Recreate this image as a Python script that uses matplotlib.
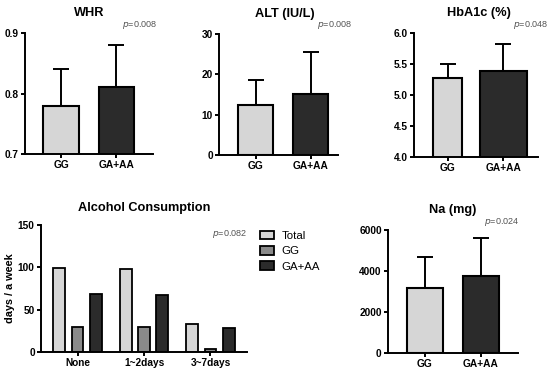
import matplotlib.pyplot as plt
from matplotlib.patches import Patch

plt.rcParams['font.family'] = ['Liberation Sans', 'DejaVu Sans']

W, H = 550, 372

groups = ['GG', 'GA+AA']
whr_mean = [0.78, 0.81]
whr_sd = [0.06, 0.07]
alt_mean = [12.3, 15.2]
alt_sd = [6.3, 10.4]
hba_mean = [5.28, 5.39]
hba_sd = [0.22, 0.44]
na_mean = [3150, 3740]
na_sd = [1550, 1890]

alc_cats = ['None', '1~2days', '3~7days']
alc_total = [99, 98, 33]
alc_gg = [29, 30, 3]
alc_ga = [69, 67, 28]

light = '#d6d6d6'
mid = '#8a8a8a'
dark = '#2b2b2b'


def add_ax(fig, left, top, right, bottom):
    # pixel box -> figure fraction
    return fig.add_axes([left / W, 1 - bottom / H, (right - left) / W, (bottom - top) / H])


def style(ax):
    for s in ['top', 'right']:
        ax.spines[s].set_visible(False)
    for s in ['left', 'bottom']:
        ax.spines[s].set_linewidth(1.4)
    ax.tick_params(width=1.4, length=3, labelsize=7.3, pad=1.5)
    for lab in ax.get_xticklabels() + ax.get_yticklabels():
        lab.set_fontweight('bold')


def ptext(fig, x, y, s):
    fig.text(x / W, 1 - y / H, s, ha='right', va='center', fontsize=6.5, color='#555555')


def two_bar(fig, box, mean, sd, ylim, yticks, fmt, title, pval, pxy, widths=(0.64, 0.64), xlim=(-0.65, 1.66), title_dx=0.0):
    ax = add_ax(fig, *box)
    x = [0, 1]
    ax.errorbar(x, mean, yerr=[[0, 0], sd], fmt='none', ecolor='black', elinewidth=1.4,
                capsize=6, capthick=1.4, zorder=1)
    ax.bar(x, mean, width=list(widths), color=[light, dark], edgecolor='black', linewidth=1.5, zorder=2)
    ax.set_ylim(*ylim)
    ax.set_xlim(*xlim)
    ax.set_yticks(yticks)
    ax.set_yticklabels([fmt.format(v) for v in yticks])
    ax.set_xticks(x)
    ax.set_xticklabels(groups)
    ax.set_title(title, fontsize=9.2, fontweight='bold', pad=12, x=0.5 + title_dx)
    style(ax)
    ptext(fig, pxy[0], pxy[1], '$\\it{p}$=' + pval)
    return ax


fig = plt.figure(figsize=(W / 100, H / 100), dpi=100)

two_bar(fig, (25, 33, 153, 154), whr_mean, whr_sd, (0.7, 0.9), [0.7, 0.8, 0.9], '{:.1f}',
        'WHR', '0.008', (157, 25))
two_bar(fig, (219, 34, 338, 155), alt_mean, alt_sd, (0, 30), [0, 10, 20, 30], '{:.0f}',
        'ALT (IU/L)', '0.008', (352, 25), widths=(0.63, 0.63), xlim=(-0.66, 1.49), title_dx=0.05)
two_bar(fig, (414, 33, 538, 157), hba_mean, hba_sd, (4.0, 6.0), [4.0, 4.5, 5.0, 5.5, 6.0], '{:.1f}',
        'HbA1c (%)', '0.048', (548, 25), widths=(0.52, 0.84), xlim=(-0.6, 1.62), title_dx=0.02)
two_bar(fig, (388, 230, 518, 353), na_mean, na_sd, (0, 6000), [0, 2000, 4000, 6000], '{:.0f}',
        'Na (mg)', '0.024', (519, 222))

# alcohol consumption grouped bars
ax = add_ax(fig, 41, 225, 247, 352)
xs = list(range(len(alc_cats)))
off = 0.275
bw = 0.175
ax.bar([v - off for v in xs], alc_total, width=bw, color=light, edgecolor='black', linewidth=1.3, label='Total')
ax.bar(xs, alc_gg, width=bw, color=mid, edgecolor='black', linewidth=1.3, label='GG')
ax.bar([v + off for v in xs], alc_ga, width=bw, color=dark, edgecolor='black', linewidth=1.3, label='GA+AA')
ax.set_ylim(0, 150)
ax.set_yticks([0, 50, 100, 150])
ax.set_xlim(-0.55, 2.55)
ax.set_xticks(xs)
ax.set_xticklabels(alc_cats)
ax.set_ylabel('days / a week', fontsize=7.8, fontweight='bold', labelpad=2)
ax.set_title('Alcohol Consumption', fontsize=9.2, fontweight='bold', pad=10)
style(ax)
ptext(fig, 247, 234, '$\\it{p}$=0.082')

handles = [Patch(facecolor=c, edgecolor='black', linewidth=1.3) for c in (light, mid, dark)]
fig.legend(handles, ['Total', 'GG', 'GA+AA'], loc='upper left', bbox_to_anchor=(255 / W, 1 - 226 / H),
           frameon=False, fontsize=8.2, handlelength=1.3, handleheight=0.8, labelspacing=0.45,
           handletextpad=0.6, borderaxespad=0)

fig.savefig('out.png', dpi=100)
